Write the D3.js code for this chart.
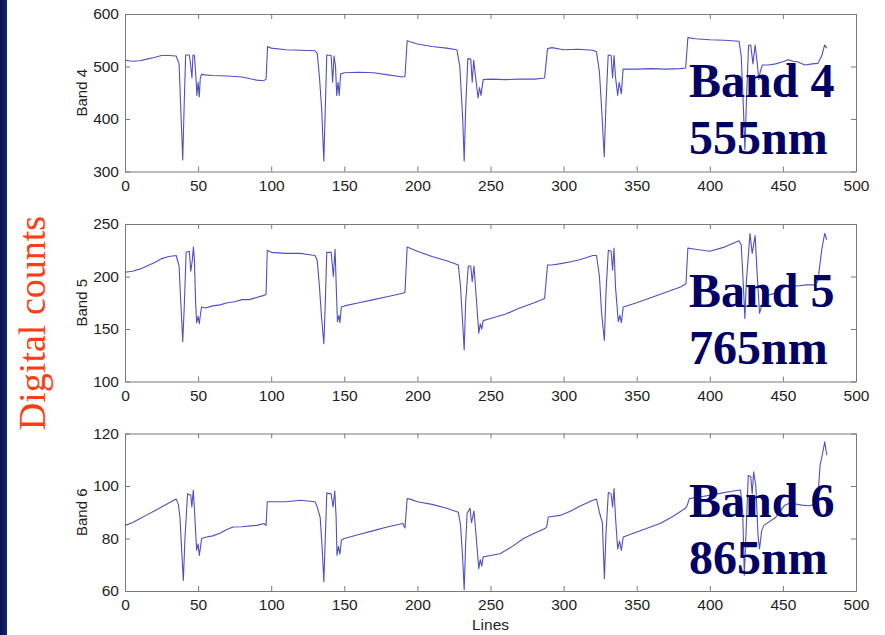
<!DOCTYPE html>
<html>
<head>
<meta charset="utf-8">
<script src="https://cdn.jsdelivr.net/npm/d3@7"></script>
<style>
  body { margin: 0; background: #fff; }
  svg { display: block; }
</style>
</head>
<body>
<svg id="chart" width="885" height="635"></svg>
<script>
// line numbers (x) and digital counts (y)
const lines4 = [0,5,10,15,20,25,30,35,37,38,39.5,40.5,41.5,44,45,45.8,46.5,47.5,48.5,49.2,50,50.8,51.5,52.3,55,60,70,80,90,95,96.5,97.5,100,110,120,130,131.5,133,134.5,136,137,138,141,142,143,144,144.8,145.7,146.5,147.5,150,160,170,180,190,191.5,193,195,200,210,220,227,229,231,232,233,234.5,236.5,237.5,238.5,240,241.5,242.5,243.5,245,250,260,270,280,287,289,292,300,310,320,322.5,324.5,326,327.8,329,330.5,332.5,333.5,334.5,335.5,337,338,339.5,340.7,350,360,370,380,383.5,385,390,400,410,420,421.5,423,424,425,426.5,428,429.5,431,432.5,433.5,434.5,436,440,445,450,453.5,457,460,465,470,474,476.5,478.6,480];
const band4 = [512,510,511,514,517,521,521,520,505,430,322,430,522,522,500,478,522,521,480,445,470,442,478,485,484,483,482,480,474,473,476,538,535,532,531,530,525,480,420,320,420,522,521,470,520,500,445,470,445,486,488,489,488,484,480,481,549,547,543,538,535,532,500,400,320,420,515,514,470,512,475,440,460,445,475,476,475,476,476,478,534,536,532,533,531,528,490,420,328,430,522,521,478,521,480,445,470,448,495,495,496,495,496,497,555,553,551,550,548,520,420,342,430,540,541,505,541,505,475,490,503,503,505,509,513,510,509,503,505,506,520,541,535];

const lines5 = [0,5,10,15,20,25,30,35,37,38,39.5,40.5,41.8,44,45,46,46.8,47.5,48.3,49,50,50.8,51.7,52.4,55,60,65,70,75,80,85,90,95,96.5,97.3,100,110,120,125,130,131.5,133,134.5,136,137,138,141,142.5,143.7,144.5,145.3,146.3,147,148,150,160,170,180,190,191.5,193,195,200,210,220,228,229.5,231,232,233,234.8,236.5,237.5,238.7,240,242,243,244,245,250,260,270,280,287,289,292,297,305,311,320,322.5,324.5,326,327.9,329,330.6,332.5,333.5,334.5,335.5,337.4,338.5,339.5,340.8,350,360,370,380,383.7,385,390,400,410,420,421.5,423,424,425,427.5,429,431,432.5,434,435.5,437.7,442,446.7,451,455,460,466,472,474,476.5,478.6,480];
const band5 = [204,205,207,210,213,217,219,220,210,180,138,170,223,224,205,215,228,215,175,156,162,155,165,171,170,172,173,175,176,178,178,180,182,183,225,223,222,222,221,220,215,190,160,136,175,223,223,200,226,190,157,163,156,171,172,175,178,181,184,185,228,227,224,219,215,211,190,155,130,175,210,210,195,210,185,146,155,150,158,160,164,170,175,179,211,211,212,214,216,220,220,200,165,139,185,225,224,206,227,190,157,163,156,171,175,180,185,190,193,227,226,224,228,234,230,190,160,195,241,222,239,200,165,172,181,183,185,190,192,191,192,192,196,225,241,235];

const lines6 = [0,5,10,15,20,25,30,33,35,36.5,37.6,38.8,39.9,41,42.8,45,45.7,46.7,47.8,49,50,50.8,51.7,52.4,55,60,65,70,74,80,90,95,96.5,97.3,100,110,120,130,131.5,133.5,135,136,137,138,141,142.3,143.5,144.4,145,146,147,148,150,160,170,180,190,191.5,193,195,200,210,220,228,229.5,231,232,233,234,236,237,238.7,240,242,243,244,245,250,256.5,265,272.6,280,287.3,288.5,289.5,297.5,305,311,320,322.5,324.5,326.5,327.9,329,330.6,332.5,333.5,334.5,335.5,337,338.3,339.5,340.8,350,366,375,383,384.5,386,395,405,415,421,422.5,423.6,425,426.3,428,429,430,431.5,433,434,435.5,437,445,451.3,455,462.8,468,472,474,475.4,477,478.6,480];
const band6 = [85,86,87.5,89,90.5,92,93.5,94.5,95,93,88,75,64,80,97,96.5,92,98.4,88,75.5,78,73.5,77,80,80.5,81,82,83.5,84.4,84.5,85,85.7,85,94,94,94,94.6,94,92,88,75,63.5,80,97.3,97,92,98.1,88,73.6,77,74,79.3,80,81.5,83,84.5,85.7,84,95.2,95,94,93,91.5,90,85,72,60.5,78,89.5,91.5,86,90.5,82,68.5,72,69.5,73,73.5,74.2,77,80,82,83.8,84.5,88.2,88.8,90.5,92.3,94.6,95,90,86,64.7,82,97.5,97,92,99,88,76,79,75.5,80.6,82.5,85.7,88.5,91.4,92.5,95.2,96,97,98,98.5,90,66,85,104,103.5,97,105.4,100,81,76,83,85,88,92.7,93.5,92.7,92.5,93,96,107.9,112,116.8,111.7];

const xTicks = [0,50,100,150,200,250,300,350,400,450,500];
const yLabels = ["Band 4", "Band 5", "Band 6"];
const yDomains = [[300, 600], [100, 250], [60, 120]];
const yTicks = [[300,400,500,600], [100,150,200,250], [60,80,100,120]];
const bandTitles = [["Band 4", "555nm"], ["Band 5", "765nm"], ["Band 6", "865nm"]];

const panels = [
  {xs: lines4, ys: band4},
  {xs: lines5, ys: band5},
  {xs: lines6, ys: band6}
];

const svg = d3.select("#chart");
const left = 125, right = 856;
const tops = [14, 224, 433.5];
const ph = 157.5;
const sans = "Arial, 'Liberation Sans', sans-serif";

// dark slide edge on the left
const grad = svg.append("defs").append("linearGradient")
  .attr("id", "edge").attr("x1", 0).attr("x2", 1).attr("y1", 0).attr("y2", 0);
grad.append("stop").attr("offset", "0%").attr("stop-color", "#08104f");
grad.append("stop").attr("offset", "100%").attr("stop-color", "#14237a");
svg.append("rect").attr("x", 0).attr("y", 0).attr("width", 7).attr("height", 635)
  .attr("fill", "url(#edge)");

const x = d3.scaleLinear().domain([0, 500]).range([left, right]);

panels.forEach((p, i) => {
  const top = tops[i], bottom = top + ph;
  const y = d3.scaleLinear().domain(yDomains[i]).range([bottom, top]);
  const g = svg.append("g");

  const axisStyle = sel => {
    sel.selectAll("path, line").attr("stroke", "#7a7a7a").attr("stroke-width", 1);
    sel.selectAll("text").attr("fill", "#1e1e1e")
      .style("font-family", sans)
      .style("font-size", "15.5px");
  };

  g.append("g").attr("transform", `translate(0,${bottom})`)
    .call(d3.axisBottom(x).tickValues(xTicks).tickSizeInner(-5).tickSizeOuter(0).tickPadding(8))
    .call(axisStyle);
  g.append("g").attr("transform", `translate(0,${top})`)
    .call(d3.axisTop(x).tickValues(xTicks).tickSizeInner(-5).tickSizeOuter(0).tickFormat(""))
    .call(axisStyle);
  g.append("g").attr("transform", `translate(${left},0)`)
    .call(d3.axisLeft(y).tickValues(yTicks[i]).tickSizeInner(-5).tickSizeOuter(0).tickPadding(6))
    .call(axisStyle);
  g.append("g").attr("transform", `translate(${right},0)`)
    .call(d3.axisRight(y).tickValues(yTicks[i]).tickSizeInner(-5).tickSizeOuter(0).tickFormat(""))
    .call(axisStyle);

  g.append("text")
    .attr("transform", `translate(87,${(top + bottom) / 2}) rotate(-90)`)
    .attr("text-anchor", "middle")
    .style("font-family", sans)
    .style("font-size", "15px")
    .attr("fill", "#1e1e1e")
    .text(yLabels[i]);

  const line = d3.line().x((d, k) => x(p.xs[k])).y(d => y(d));
  g.append("path")
    .datum(p.ys)
    .attr("d", line)
    .attr("fill", "none")
    .attr("stroke", "#4f4fc6")
    .attr("stroke-width", 1.1)
    .attr("stroke-linejoin", "round");

  // big band names over the traces
  bandTitles[i].forEach((t, k) => {
    g.append("text")
      .attr("x", 689)
      .attr("y", top + 83 + k * 57)
      .style("font-family", "'Liberation Serif', 'Times New Roman', serif")
      .style("font-weight", "bold")
      .style("font-size", "48px")
      .attr("fill", "#000066")
      .text(t);
  });
});

svg.append("text")
  .attr("x", x(250)).attr("y", 630)
  .attr("text-anchor", "middle")
  .style("font-family", sans)
  .style("font-size", "15.5px")
  .attr("fill", "#1e1e1e")
  .text("Lines");

svg.append("text")
  .attr("transform", "translate(45,323) rotate(-90)")
  .attr("text-anchor", "middle")
  .style("font-family", "'Liberation Serif', 'Times New Roman', serif")
  .style("font-size", "38px")
  .attr("fill", "#ff3d12")
  .text("Digital counts");
</script>
</body>
</html>
